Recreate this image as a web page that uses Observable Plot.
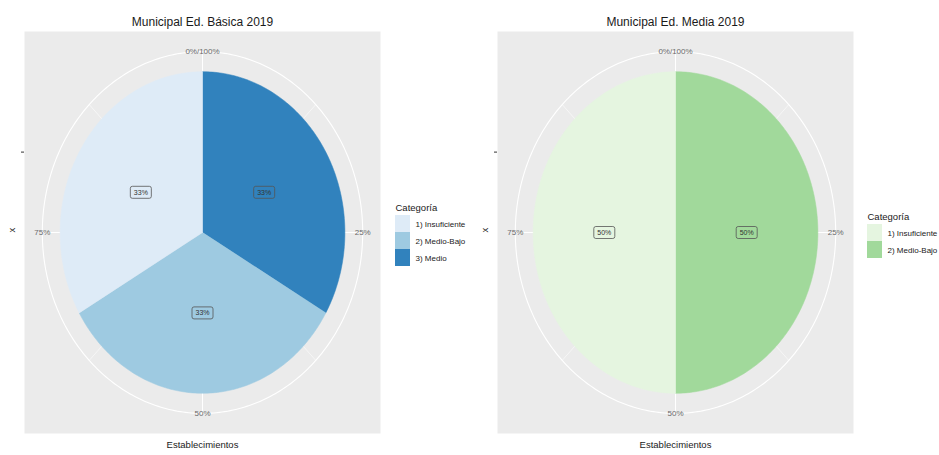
<!DOCTYPE html>
<html>
<head>
<meta charset="utf-8">
<script src="https://cdn.jsdelivr.net/npm/d3@7"></script>
<script src="https://cdn.jsdelivr.net/npm/@observablehq/plot@0.6"></script>
<style>
  html, body { margin: 0; padding: 0; background: white; }
  #root { position: relative; width: 939px; height: 455px; overflow: hidden; font-family: "Liberation Sans", Arial, sans-serif; }
  #root > div { position: absolute; }
  #root svg { display: block; max-width: none; }
</style>
</head>
<body>
<div id="root"></div>
<script>
// ---------- data ----------
const titles = ["Municipal Ed. Básica 2019", "Municipal Ed. Media 2019"];

const catsBasica = ["1) Insuficiente", "2) Medio-Bajo", "3) Medio"];
const countsBasica = [1, 1, 1];
const colorsBasica = ["#DEEBF7", "#9ECAE1", "#3182BD"];

const catsMedia = ["1) Insuficiente", "2) Medio-Bajo"];
const countsMedia = [1, 1];
const colorsMedia = ["#E5F5E0", "#A1D99B"];

const thetaBreaks = [0, 0.25, 0.5, 0.75];
const thetaLabels = ["0%/100%", "25%", "50%", "75%"];
const thetaMinor = [0.125, 0.375, 0.625, 0.875];

const xTitle = "Establecimientos";
const yTitle = "x";
const legendTitle = "Categoría";

// ---------- ggplot polar layout constants (panel units) ----------
const PIE_R = 0.4, GRID_R = 0.45, LABEL_R = 0.2, R_TICK = 0.2;
const FONT = "Liberation Sans, Arial, sans-serif";
const px = (t, r) => r * Math.sin(2 * Math.PI * t);
const py = (t, r) => r * Math.cos(2 * Math.PI * t);
const pctFmt = d3.format(".0%");

const roundRect = {
  draw(ctx) {
    const w = 10.5, h = 6, r = 2;
    ctx.moveTo(-w + r, -h);
    ctx.lineTo(w - r, -h);
    ctx.arcTo(w, -h, w, -h + r, r);
    ctx.lineTo(w, h - r);
    ctx.arcTo(w, h, w - r, h, r);
    ctx.lineTo(-w + r, h);
    ctx.arcTo(-w, h, -w, h - r, r);
    ctx.lineTo(-w, -h + r);
    ctx.arcTo(-w, -h, -w + r, -h, r);
    ctx.closePath();
  }
};

function pie(cats, counts, colors, title, width, marginRight) {
  const total = d3.sum(counts);
  const slices = [];
  let acc = 0;
  for (let i = cats.length - 1; i >= 0; i--) {
    slices.push({cat: cats[i], t0: acc / total, t1: (acc + counts[i]) / total, pct: counts[i] / total});
    acc += counts[i];
  }
  const pts = [];
  for (const s of slices) {
    pts.push({cat: s.cat, t: 0, r: 0});
    const n = Math.max(2, Math.ceil((s.t1 - s.t0) * 360));
    for (let k = 0; k <= n; k++) pts.push({cat: s.cat, t: s.t0 + (s.t1 - s.t0) * k / n, r: PIE_R});
    pts.push({cat: s.cat, t: 0, r: 0});
  }
  const circle = d3.range(0, 361).map(k => ({t: k / 360, r: GRID_R}));
  const thetaData = thetaBreaks.map((t, i) => ({t, label: thetaLabels[i]}));
  const mid = s => (s.t0 + s.t1) / 2;

  return Plot.plot({
    width, height: 455,
    marginLeft: 24, marginRight, marginTop: 31, marginBottom: 22,
    style: {background: "transparent", fontFamily: FONT, color: "#333"},
    x: {domain: [-0.5, 0.5], axis: null},
    y: {domain: [-0.5, 0.5], ticks: [R_TICK], tickFormat: () => "", tickSize: 3, label: null},
    color: {domain: cats, range: colors},
    marks: [
      Plot.frame({fill: "#EBEBEB", stroke: "none"}),
      Plot.link(thetaMinor, {x1: () => 0, y1: () => 0, x2: t => px(t, GRID_R), y2: t => py(t, GRID_R), stroke: "white", strokeWidth: 0.55}),
      Plot.link(thetaBreaks, {x1: () => 0, y1: () => 0, x2: t => px(t, GRID_R), y2: t => py(t, GRID_R), stroke: "white", strokeWidth: 1.1}),
      Plot.line(circle, {x: d => px(d.t, d.r), y: d => py(d.t, d.r), stroke: "white", strokeWidth: 1.1}),
      Plot.line(pts, {x: d => px(d.t, d.r), y: d => py(d.t, d.r), z: "cat", fill: "cat", stroke: "cat", strokeWidth: 0.5, curve: "linear"}),
      Plot.text(thetaData, {x: d => px(d.t, GRID_R), y: d => py(d.t, GRID_R), text: "label", fontSize: 8, fill: "#6a6a6a"}),
      Plot.dot(slices, {x: s => px(mid(s), LABEL_R), y: s => py(mid(s), LABEL_R), symbol: roundRect, fill: "cat", stroke: "#555", strokeWidth: 0.8}),
      Plot.text(slices, {x: s => px(mid(s), LABEL_R), y: s => py(mid(s), LABEL_R), text: s => pctFmt(s.pct), fontSize: 7, fill: "#333"}),
      Plot.text([title], {frameAnchor: "top", dy: -14, text: d => d, fontSize: 12, fill: "#1a1a1a"}),
      Plot.text([xTitle], {frameAnchor: "bottom", dy: 14, text: d => d, fontSize: 9.5, fill: "#1a1a1a"}),
      Plot.text([yTitle], {frameAnchor: "left", dx: -13, rotate: -90, text: d => d, fontSize: 9.5, fill: "#1a1a1a"})
    ]
  });
}

function legend(cats, colors) {
  return Plot.plot({
    width: 72, height: 17 + 17 * cats.length,
    marginTop: 17, marginBottom: 0, marginLeft: 0, marginRight: 57,
    style: {background: "transparent", fontFamily: FONT},
    x: {axis: null},
    y: {domain: cats, axis: null, padding: 0},
    color: {domain: cats, range: colors},
    marks: [
      Plot.cell(cats, {y: d => d, fill: d => d}),
      Plot.text(cats, {y: d => d, text: d => d, frameAnchor: "right", dx: 5, textAnchor: "start", fontSize: 8, fill: "#1a1a1a"}),
      Plot.text([legendTitle], {frameAnchor: "top-left", dy: -11, textAnchor: "start", text: d => d, fontSize: 9.5, fill: "#1a1a1a"})
    ]
  });
}

const root = document.getElementById("root");
function place(node, left, top) {
  const d = document.createElement("div");
  d.style.left = left + "px";
  d.style.top = top + "px";
  d.appendChild(node);
  root.appendChild(d);
}
place(pie(catsBasica, countsBasica, colorsBasica, titles[0], 470, 90), 0, 0);
place(pie(catsMedia, countsMedia, colorsMedia, titles[1], 466, 86), 473, 0);
place(legend(catsBasica, colorsBasica), 395, 198);
place(legend(catsMedia, colorsMedia), 867, 207);
</script>
</body>
</html>
